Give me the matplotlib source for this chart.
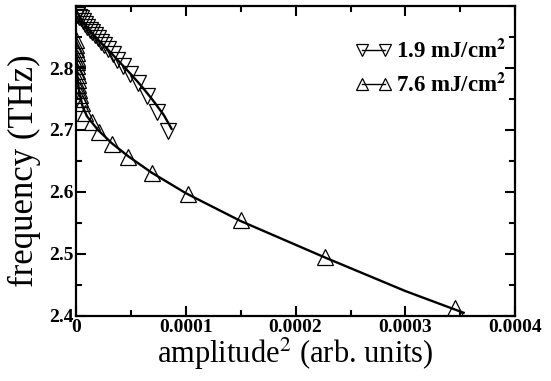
import numpy as np
import matplotlib.pyplot as plt
from matplotlib.ticker import MultipleLocator, FixedLocator

plt.rcParams['font.family'] = ['Liberation Serif', 'DejaVu Serif']
plt.rcParams['mathtext.fontset'] = 'stix'

# 1.9 mJ/cm^2 (down triangles), amplitude^2 in units of 1e-4
amp_low = [0.005, 0.012, 0.027, 0.043, 0.061, 0.082, 0.103, 0.128, 0.149, 0.173, 0.197,
           0.225, 0.258, 0.295, 0.334, 0.376, 0.431, 0.492, 0.568, 0.65, 0.741, 0.841]
freq_low = [2.888, 2.886, 2.883, 2.880, 2.876, 2.871, 2.867, 2.862, 2.858, 2.853, 2.848,
            2.842, 2.837, 2.830, 2.822, 2.813, 2.803, 2.790, 2.776, 2.755, 2.729, 2.699]
fit_low_x = [0.0, 0.05, 0.1, 0.2, 0.3, 0.4, 0.5, 0.6, 0.7, 0.8, 0.87]
fit_low_y = [2.893, 2.878, 2.866, 2.846, 2.828, 2.809, 2.790, 2.770, 2.748, 2.724, 2.702]

# 7.6 mJ/cm^2 (up triangles)
amp_high = [0.002, 0.003, 0.004, 0.005, 0.006, 0.008, 0.010, 0.012, 0.015, 0.018, 0.022,
            0.027, 0.033, 0.040, 0.05, 0.082, 0.143, 0.212, 0.325, 0.477, 0.69, 1.023,
            1.50, 2.269, 3.453]
freq_high = [2.845, 2.838, 2.831, 2.824, 2.817, 2.810, 2.803, 2.796, 2.789, 2.781, 2.773,
             2.765, 2.757, 2.750, 2.743, 2.727, 2.713, 2.697, 2.678, 2.657, 2.631, 2.596,
             2.554, 2.495, 2.412]
fit_high_x = [0.0, 0.003, 0.01, 0.03, 0.06, 0.1, 0.2, 0.33, 0.48, 0.69, 1.0, 1.5, 2.27, 3.0, 3.53]
fit_high_y = [2.85, 2.82, 2.79, 2.76, 2.738, 2.722, 2.70, 2.678, 2.657, 2.631, 2.598, 2.553,
              2.494, 2.44, 2.405]

xticks = [0, 0.0001, 0.0002, 0.0003, 0.0004]
xticklabels = ['0', '0.0001', '0.0002', '0.0003', '0.0004']
yticks = [2.4, 2.5, 2.6, 2.7, 2.8]
yticklabels = ['2.4', '2.5', '2.6', '2.7', '2.8']

fig = plt.figure(figsize=(5.51, 3.81), dpi=100)
ax = fig.add_axes([0.138, 0.171, 0.797, 0.813])

s = 1e-4
ms = 11
ax.plot(np.array(fit_low_x) * s, fit_low_y, 'k-', lw=1.7)
ax.plot(np.array(fit_high_x) * s, fit_high_y, 'k-', lw=1.7)
ax.plot(np.array(amp_low) * s, freq_low, 'kv', mfc='none', ms=ms, mew=0.9)
ax.plot(np.array(amp_high) * s, freq_high, 'k^', mfc='none', ms=ms, mew=0.9)

# legend handles: line with markers
ax.plot([], [], 'k-v', mfc='none', ms=9, mew=0.9, lw=1.0, label='1.9 mJ/cm$^\\mathbf{2}$')
ax.plot([], [], 'k-^', mfc='none', ms=9, mew=0.9, lw=1.0, label='7.6 mJ/cm$^\\mathbf{2}$')
h, l = ax.get_legend_handles_labels()
leg = ax.legend(h, l, loc='upper right', bbox_to_anchor=(1.01, 0.935),
                frameon=False, numpoints=2, handlelength=1.6, handletextpad=0.15,
                labelspacing=0.45, borderaxespad=0.2, prop={'weight': 'bold', 'size': 16.5})

ax.set_xlim(0, 0.0004)
ax.set_ylim(2.4, 2.9)
ax.xaxis.set_major_locator(FixedLocator(xticks))
ax.set_xticklabels(xticklabels)
ax.xaxis.set_minor_locator(MultipleLocator(0.00005))
ax.yaxis.set_major_locator(FixedLocator(yticks))
ax.set_yticklabels(yticklabels)
ax.yaxis.set_minor_locator(MultipleLocator(0.05))
ax.tick_params(which='both', direction='in', top=True, right=True, width=1.5)
ax.tick_params(which='major', length=7, labelsize=14, pad=2)
ax.tick_params(which='minor', length=4)
for t in ax.get_xticklabels() + ax.get_yticklabels():
    t.set_fontweight('bold')
for sp in ax.spines.values():
    sp.set_linewidth(1.6)

ax.set_xlabel(r'amplitude$^2$ (arb. units)', fontsize=22, labelpad=0)
ax.set_ylabel('frequency (THz)', fontsize=25, labelpad=0)
ax.yaxis.set_label_coords(-0.08, 0.47)

fig.savefig('out.png', dpi=100)
